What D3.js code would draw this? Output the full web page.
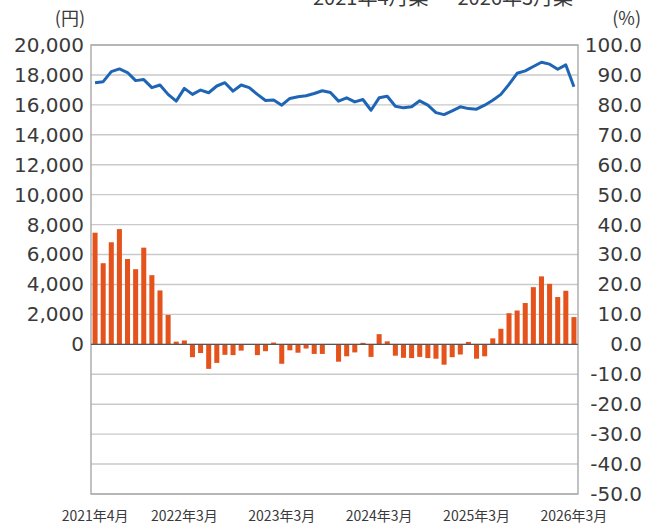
<!DOCTYPE html>
<html>
<head>
<meta charset="utf-8">
<script src="https://cdn.jsdelivr.net/npm/d3@7"></script>
<style>
  body { margin: 0; background: #fff; }
  svg text { fill: #3a3a3a; }
</style>
</head>
<body>
<div id="chart"></div>
<script>
// months 2021-04 .. 2026-03
var months = d3.timeMonth.range(new Date(2021, 3, 1), new Date(2026, 3, 1))
  .map(function(d){ return d3.timeFormat("%Y-%m")(d); });

// price (yen), left axis
var priceYen = [17480, 17550, 18225, 18400, 18160, 17620, 17690, 17150, 17330, 16700,
  16250, 17100, 16700, 16990, 16810, 17260, 17480, 16920, 17330, 17150,
  16700, 16290, 16330, 15980, 16430, 16540, 16610, 16760, 16940, 16830,
  16250, 16470, 16200, 16360, 15640, 16470, 16580, 15910, 15800, 15870,
  16270, 15980, 15480, 15350, 15600, 15870, 15750, 15710, 15980, 16310,
  16700, 17370, 18110, 18270, 18560, 18850, 18720, 18380, 18670, 17210];

// year-on-year change (%), right axis
var changePct = [37.3, 27.1, 34.1, 38.5, 28.5, 25.1, 32.3, 23.1, 18.0, 9.8,
  0.9, 1.3, -4.3, -2.9, -8.2, -6.2, -3.5, -3.6, -2.1, 0,
  -3.6, -2.3, 0.6, -6.5, -2.0, -2.8, -1.4, -3.2, -3.2, -0.2,
  -5.8, -4.0, -2.7, 0.5, -4.2, 3.4, 1.0, -3.8, -4.5, -4.6,
  -4.2, -4.6, -4.8, -6.8, -4.3, -3.4, 0.8, -4.8, -4.0, 2.0,
  5.2, 10.4, 11.3, 13.8, 19.1, 22.7, 20.2, 15.8, 17.9, 9.1];

var tickMonths = ["2021-04", "2022-03", "2023-03", "2024-03", "2025-03", "2026-03"];
var tickLabels = ["2021年4月", "2022年3月", "2023年3月", "2024年3月", "2025年3月", "2026年3月"];
var leftTicks = d3.range(0, 20001, 2000);
var rightTicks = d3.range(-50, 100.1, 10);

var margin = {left: 91, right: 73, top: 45, bottom: 35};
var W = 651, H = 529;
var width = W - margin.left - margin.right,
    height = H - margin.top - margin.bottom;

var x = d3.scaleBand().domain(months).range([0, width]).paddingInner(0.38).paddingOuter(0.19);
var yL = d3.scaleLinear().domain([-10000, 20000]).range([height, 0]);
var yR = d3.scaleLinear().domain([-50, 100]).range([height, 0]);

var numFont = "'DejaVu Sans', sans-serif";
var cjkFont = "'Noto Sans CJK JP', sans-serif";

var root = d3.select("#chart").append("svg")
  .attr("width", W)
  .attr("height", H);

// title (cut off at top, as in the source image)
root.append("text")
  .attr("x", 443)
  .attr("y", 5)
  .attr("text-anchor", "middle")
  .style("font-family", cjkFont)
  .style("font-size", "20px")
  .text("2021年4月集 ～ 2026年3月集");

// unit labels
root.append("text")
  .attr("x", 85).attr("y", 25)
  .attr("text-anchor", "end")
  .style("font-family", cjkFont)
  .style("font-size", "18px")
  .text("(円)");
root.append("text")
  .attr("x", 641).attr("y", 25)
  .attr("text-anchor", "end")
  .style("font-family", cjkFont)
  .style("font-size", "18px")
  .text("(%)");

var svg = root.append("g")
  .attr("transform", "translate(" + margin.left + "," + margin.top + ")");

// gridlines
svg.selectAll(".grid")
  .data(d3.range(-10000, 20001, 2000))
  .enter().append("line")
  .attr("class", "grid")
  .attr("x1", 0).attr("x2", width)
  .attr("y1", function(d){ return yL(d); })
  .attr("y2", function(d){ return yL(d); })
  .style("stroke", "#c9c9c9")
  .style("stroke-width", "1.4px");

// frame
svg.append("rect")
  .attr("width", width).attr("height", height)
  .style("fill", "none")
  .style("stroke", "#a8a8a8")
  .style("stroke-width", "1.4px");

// bars
svg.selectAll(".bar")
  .data(changePct)
  .enter().append("rect")
  .attr("class", "bar")
  .attr("x", function(d, i){ return x(months[i]); })
  .attr("width", x.bandwidth())
  .attr("y", function(d){ return yR(Math.max(0, d)); })
  .attr("height", function(d){ return Math.abs(yR(d) - yR(0)); })
  .style("fill", "#e4531c");

// zero line
svg.append("line")
  .attr("x1", 0).attr("x2", width)
  .attr("y1", yL(0)).attr("y2", yL(0))
  .style("stroke", "#555")
  .style("stroke-width", "1.2px");

// price line
var line = d3.line()
  .x(function(d, i){ return x(months[i]) + x.bandwidth() / 2; })
  .y(function(d){ return yL(d); });

svg.append("path")
  .datum(priceYen)
  .attr("d", line)
  .style("fill", "none")
  .style("stroke", "#1f65b5")
  .style("stroke-width", "3px")
  .style("stroke-linejoin", "round");

// left axis
var axL = svg.append("g")
  .call(d3.axisLeft(yL).tickValues(leftTicks).tickSize(0).tickPadding(7)
    .tickFormat(d3.format(",")));
axL.select(".domain").remove();
axL.selectAll("text")
  .style("font-family", numFont)
  .style("font-size", "20px")
  .style("fill", "#3a3a3a");

// right axis (plain hyphen for negatives)
var pct = d3.format(".1f");
var axR = svg.append("g")
  .attr("transform", "translate(" + width + ",0)")
  .call(d3.axisRight(yR).tickValues(rightTicks).tickSize(0).tickPadding(0)
    .tickFormat(function(d){ return pct(d).replace("\u2212", "-"); }));
axR.select(".domain").remove();
axR.selectAll("text")
  .attr("x", 64)
  .style("text-anchor", "end")
  .style("font-family", numFont)
  .style("font-size", "20px")
  .style("fill", "#3a3a3a");

// bottom axis
var axB = svg.append("g")
  .attr("transform", "translate(0," + height + ")")
  .call(d3.axisBottom(x).tickValues(tickMonths).tickSize(0).tickPadding(17)
    .tickFormat(function(d){ return tickLabels[tickMonths.indexOf(d)]; }));
axB.select(".domain").remove();
axB.selectAll("text")
  .style("font-family", cjkFont)
  .style("font-size", "14px")
  .style("fill", "#3a3a3a");
</script>
</body>
</html>
